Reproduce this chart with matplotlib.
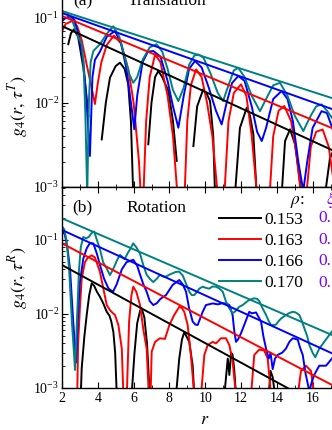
import numpy as np
import matplotlib
matplotlib.use("Agg")
import matplotlib.pyplot as plt
from matplotlib.ticker import MultipleLocator, LogLocator, NullFormatter

plt.rcParams['font.family'] = ['Liberation Serif', 'DejaVu Serif']
plt.rcParams['mathtext.fontset'] = 'stix'

nan = np.nan

# ---------------- data ----------------
rho_labels = ['0.153', '0.163', '0.166', '0.170']
colors = ['#000000', '#ff0000', '#0000ff', '#008080']

# envelope (fit) lines: values at r = 2 and r = 18
env_r = [2.0, 18.0]
env_T = [[0.0803, 0.00223], [0.1057, 0.00414], [0.1146, 0.00714], [0.121, 0.00977]]
env_R = [[0.0459, 0.000356], [0.090, 0.00084], [0.1365, 0.00233], [0.196, 0.00417]]

# ---- translation curves ----
T_black_r = [2.35, 2.5, 2.67, 2.9, 3.19, 3.35, 3.47, nan,
             4.22, 4.45, 4.68, 5.0, 5.24, 5.5, 5.7, 5.85, 5.98, nan,
             6.82, 7.0, 7.2, 7.38, 7.6, 7.94, 8.2, 8.41, nan,
             9.34, 9.55, 9.89, 10.1, 10.27, 10.45, 10.55, nan,
             11.66, 11.94, 12.32, 12.5, 12.69, 12.88, nan,
             14.27, 14.46, 14.74, 15.02, 15.39, nan,
             16.69, 16.97, 17.2, 17.5]
T_black_g = [0.049, 0.066, 0.0735, 0.060, 0.026, 0.013, 0.0069, nan,
             0.00366, 0.010, 0.0197, 0.027, 0.0296, 0.025, 0.0164, 0.006, 0.0008, nan,
             0.0032, 0.010, 0.020, 0.0236, 0.020, 0.0137, 0.006, 0.00204, nan,
             0.00305, 0.009, 0.0143, 0.0125, 0.0104, 0.004, 0.0008, nan,
             0.0008, 0.005, 0.00867, 0.007, 0.0042, 0.0008, nan,
             0.0008, 0.0035, 0.00482, 0.0032, 0.0008, nan,
             0.0008, 0.0022, 0.0028, 0.003]

T_red_r = [2.0, 2.2, 2.56, 2.85, 3.1, 3.35, 3.6, 3.84, 4.0, 4.2, 4.5, 4.9, 5.3, 5.7, 6.0, 6.3, 6.4, nan,
           6.55, 6.7, 6.9, 7.2, 7.5, 7.9, 8.2, 8.45, nan,
           8.85, 9.0, 9.2, 9.49, 9.8, 10.1, 10.4, 10.7, nan,
           11.07, 11.3, 11.6, 12.0, 12.3, 12.6, 12.9, nan,
           13.6, 13.8, 14.1, 14.42, 14.8, 15.1, 15.35, nan,
           15.65, 15.9, 16.2, 16.56, 16.9, 17.1, 17.3]
T_red_g = [0.07, 0.085, 0.092, 0.08, 0.055, 0.03, 0.017, 0.0096, 0.017, 0.03, 0.048, 0.062, 0.05, 0.025, 0.01, 0.002, 0.0008, nan,
           0.0008, 0.006, 0.02, 0.037, 0.03, 0.012, 0.004, 0.0008, nan,
           0.0008, 0.006, 0.016, 0.0247, 0.02, 0.01, 0.004, 0.0008, nan,
           0.0008, 0.006, 0.013, 0.0164, 0.012, 0.004, 0.0008, nan,
           0.0008, 0.004, 0.008, 0.0091, 0.006, 0.0025, 0.0008, nan,
           0.0008, 0.003, 0.0045, 0.0048, 0.003, 0.0015, 0.0008]

T_blue_r = [2.0, 2.2, 2.45, 2.7, 2.95, 3.19, 3.35, 3.56, 3.7, 3.84, 4.12, 4.5, 4.96, 5.3, 5.6, 5.85,
            6.04, 6.2, 6.5, 6.8, 7.1, 7.5, 7.9, 8.2, 8.5, 8.8, 9.1, 9.43, 9.8, 10.2, 10.6, 10.92,
            11.2, 11.5, 11.85, 12.2, 12.6, 12.9, 13.16, 13.4, 13.8, 14.27, 14.6, 14.9, 15.2, 15.48,
            15.7, 16.0, 16.5, 16.8, 17.1, 17.4]
T_blue_g = [0.092, 0.1, 0.105, 0.095, 0.06, 0.031, 0.012, 0.00233, 0.02, 0.032, 0.04, 0.06, 0.070, 0.05, 0.025, 0.01,
            0.00482, 0.012, 0.03, 0.04, 0.0407, 0.035, 0.018, 0.009, 0.00503, 0.012, 0.025, 0.031, 0.026, 0.015, 0.008, 0.0055,
            0.01, 0.017, 0.0206, 0.018, 0.009, 0.0045, 0.0035, 0.005, 0.011, 0.0137, 0.011, 0.006, 0.002, 0.0009,
            0.002, 0.005, 0.0079, 0.0075, 0.005, 0.003]

T_teal_r = [2.0, 2.3, 2.6, 2.9, 3.1, 3.2, 3.3, 3.41, 3.5, 3.6, 3.75, 4.12, 4.5, 4.87, 5.2, 5.5, 5.75, 5.98,
            6.2, 6.5, 6.9, 7.28, 7.6, 7.9, 8.2, 8.5, 8.8, 9.1, 9.4, 9.62, 9.9, 10.3, 10.7, 11.0,
            11.3, 11.6, 11.85, 12.2, 12.6, 13.06, 13.4, 13.8, 14.18, 14.6, 15.0, 15.48, 15.9, 16.2,
            16.5, 16.8, 17.08]
T_teal_g = [0.12, 0.115, 0.09, 0.06, 0.049, 0.03, 0.008, 0.0008, 0.01, 0.03, 0.0407, 0.049, 0.065, 0.080, 0.06, 0.035, 0.022, 0.0171,
            0.02, 0.032, 0.045, 0.049, 0.04, 0.025, 0.014, 0.0104, 0.015, 0.028, 0.036, 0.037, 0.034, 0.022, 0.013, 0.0104,
            0.016, 0.024, 0.0257, 0.02, 0.012, 0.0079, 0.011, 0.016, 0.0171, 0.012, 0.007, 0.0046, 0.007, 0.009,
            0.0095, 0.008, 0.0066]

# ---- rotation curves ----
R_black_r = [3.05, 3.1, 3.25, 3.38, 3.52, 3.66, 3.8, 3.95, 4.12, 4.3, 4.5, 4.65, 4.75, 4.87, 4.97, 5.06, nan,
             5.89, 6.05, 6.2, 6.36, 6.45, 6.6, 6.75, 6.9, nan,
             8.37, 8.55, 8.7, 8.83, 8.95, 9.11, 9.3, 9.39, nan,
             11.07, 11.26, 11.35, 11.45, 11.53, 11.62, 11.72, nan,
             13.55, 13.65, 13.77, 13.9]
R_black_g = [0.0008, 0.00184, 0.005, 0.0097, 0.018, 0.026, 0.024, 0.02, 0.0171, 0.014, 0.0107, 0.0095, 0.008, 0.0057, 0.003, 0.0008, nan,
             0.0008, 0.003, 0.0075, 0.011, 0.0119, 0.009, 0.004, 0.0008, nan,
             0.0008, 0.0025, 0.0045, 0.0057, 0.005, 0.0042, 0.002, 0.0008, nan,
             0.0008, 0.0025, 0.0015, 0.003, 0.0028, 0.0018, 0.0008, nan,
             0.0008, 0.0017, 0.0014, 0.0008]

R_red_r = [2.85, 2.9, 3.0, 3.1, 3.28, 3.45, 3.66, 3.84, 4.0, 4.12, 4.31, 4.5, 4.68, 4.8, 4.96, 5.15, 5.34, 5.43, nan,
           5.62, 5.75, 5.88, 5.98, 6.15, 6.36, 6.55, 6.73, 6.85, nan,
           6.95, 7.01, 7.2, 7.47, 7.75, 8.0, 8.27, 8.55, 8.7, 8.83, 9.02, 9.2, 9.39, nan,
           9.77, 9.95, 10.14, 10.42, 10.6, 10.88, 11.16, 11.35, 11.53, 11.72, nan,
           12.56, 12.74, 13.02, 13.3, 13.49, 13.68, nan,
           15.17, 15.35, 15.63, 15.91, 16.09]
R_red_g = [0.0008, 0.004, 0.012, 0.03, 0.05, 0.058, 0.062, 0.058, 0.045, 0.037, 0.022, 0.0132, 0.0113, 0.0105, 0.0097, 0.0071, 0.0034, 0.0008, nan,
           0.0008, 0.008, 0.018, 0.0234, 0.02, 0.0132, 0.006, 0.0034, 0.0008, nan,
           0.0008, 0.0031, 0.0042, 0.0047, 0.0046, 0.0071, 0.0097, 0.0125, 0.012, 0.0107, 0.0071, 0.0028, 0.0008, nan,
           0.0008, 0.0028, 0.0038, 0.0042, 0.0040, 0.0047, 0.0047, 0.0038, 0.0023, 0.0008, nan,
           0.0008, 0.0028, 0.0033, 0.0032, 0.0025, 0.0008, nan,
           0.0008, 0.0017, 0.002, 0.0017, 0.0008]

R_blue_r = [2.02, 2.15, 2.3, 2.45, 2.6, 2.78, 2.9, 3.0, 3.19, 3.38, 3.55, 3.75, 3.95, 4.12, 4.35, 4.6, 4.85,
            5.05, 5.34, 5.6, 5.98, 6.2, 6.36, 6.55, 6.73, 6.9, 7.1, 7.3, 7.5, 7.81, 8.18, 8.55, 8.75,
            8.93, 9.1, 9.3, 9.45, 9.58, 9.86, 10.04, 10.42, 10.7, 10.98, 11.2, 11.35, 11.53, 11.62, 11.72,
            11.85, 12.0, 12.18, 12.46, 12.6, 12.84, 13.12, 13.25, 13.4, 13.55, 13.65, 13.77, 13.9, 14.05,
            14.3, 14.51, 14.7, 14.89, 15.05, 15.17, 15.3, 15.45, 15.6, 15.82, 15.95, 16.09, 16.37, 16.75, 17.08]
R_blue_g = [0.13, 0.12, 0.08, 0.04, 0.01, 0.0022, 0.01, 0.027, 0.056, 0.077, 0.09, 0.09, 0.065, 0.046, 0.03, 0.022, 0.02,
            0.025, 0.04, 0.05, 0.054, 0.045, 0.034, 0.025, 0.02, 0.015, 0.0132, 0.014, 0.016, 0.018, 0.0247, 0.0288, 0.025,
            0.02, 0.012, 0.0079, 0.0072, 0.0071, 0.0107, 0.0132, 0.0139, 0.0135, 0.014, 0.0138, 0.0132, 0.0097, 0.006, 0.0042,
            0.0046, 0.0055, 0.0071, 0.0107, 0.0102, 0.0105, 0.0079, 0.005, 0.0034, 0.0025, 0.003, 0.0018, 0.0025, 0.0028,
            0.003, 0.0034, 0.0042, 0.0047, 0.0046, 0.0045, 0.0035, 0.0028, 0.0016, 0.0009, 0.0012, 0.0015, 0.002, 0.002, 0.0025]

R_teal_r = [2.02, 2.12, 2.25, 2.4, 2.55, 2.73, 2.85, 2.95, 3.05, 3.19, 3.35, 3.5, 3.66, 3.8, 3.95, 4.12, 4.3,
            4.5, 4.68, 4.85, 4.96, 5.1, 5.24, 5.34, 5.5, 5.65, 5.8, 5.98, 6.15, 6.36, 6.55, 6.73, 6.9,
            7.1, 7.3, 7.47, 7.65, 7.81, 8.0, 8.18, 8.35, 8.55, 8.75, 8.95, 9.11, 9.25, 9.39, 9.55, 9.67,
            9.86, 10.05, 10.23, 10.4, 10.6, 10.8, 10.98, 11.15, 11.35, 11.53, 11.7, 11.9, 12.09, 12.3,
            12.46, 12.74, 12.9, 13.02, 13.2, 13.4, 13.55, 13.68, 13.85, 13.96, 14.1, 14.24, 14.51, 14.7,
            14.89, 15.05, 15.26, 15.4, 15.54, 15.7, 15.82, 16.0, 16.15, 16.37, 16.65, 16.93, 17.08]
R_teal_g = [0.15, 0.14, 0.10, 0.04, 0.008, 0.00175, 0.01, 0.04, 0.08, 0.11, 0.105, 0.11, 0.125, 0.13, 0.1, 0.075, 0.05,
            0.041, 0.0336, 0.04, 0.046, 0.055, 0.063, 0.06, 0.055, 0.065, 0.075, 0.09, 0.08, 0.065, 0.045, 0.034, 0.03,
            0.027, 0.03, 0.034, 0.032, 0.032, 0.034, 0.0355, 0.037, 0.0373, 0.033, 0.025, 0.02, 0.018, 0.018, 0.02, 0.022,
            0.0234, 0.0225, 0.022, 0.0235, 0.0234, 0.022, 0.02, 0.015, 0.0119, 0.0102, 0.011, 0.0125, 0.0132, 0.0145,
            0.0155, 0.0163, 0.016, 0.015, 0.012, 0.0097, 0.008, 0.0071, 0.0071, 0.0072, 0.008, 0.0087, 0.0097, 0.0103,
            0.0107, 0.0105, 0.0097, 0.008, 0.0064, 0.005, 0.0038, 0.003, 0.0026, 0.0034, 0.0042, 0.0052, 0.0058]

T_curves = [(T_black_r, T_black_g), (T_red_r, T_red_g), (T_blue_r, T_blue_g), (T_teal_r, T_teal_g)]
R_curves = [(R_black_r, R_black_g), (R_red_r, R_red_g), (R_blue_r, R_blue_g), (R_teal_r, R_teal_g)]

# ---------------- figure ----------------
W, H = 332, 430
fig = plt.figure(figsize=(W / 100, H / 100), dpi=100)

def frame(x0, y0, x1, y1):
    return [x0 / W, 1 - y1 / H, (x1 - x0) / W, (y1 - y0) / H]

ax1 = fig.add_axes(frame(62, -15.6, 348.4, 187))
ax2 = fig.add_axes(frame(62, 187, 348.4, 388))

lw = 1.4
for ax, curves, env, ylim in [(ax1, T_curves, env_T, (1e-3, 0.25)),
                              (ax2, R_curves, env_R, (1e-3, 0.52))]:
    for (r, g), e, c in zip(curves, env, colors):
        ax.plot(np.array(r, float), np.array(g, float), color=c, lw=lw)
    handles = []
    for e, c in zip(env, colors):
        h, = ax.plot(env_r, e, color=c, lw=lw)
        handles.append(h)
    ax.set_yscale('log')
    ax.set_xlim(2, 18)
    ax.set_ylim(*ylim)
    ax.xaxis.set_major_locator(MultipleLocator(2))
    ax.xaxis.set_minor_locator(MultipleLocator(1))
    ax.yaxis.set_major_locator(LogLocator(base=10, numticks=10))
    ax.yaxis.set_minor_locator(LogLocator(base=10, subs=np.arange(2, 10), numticks=20))
    ax.yaxis.set_minor_formatter(NullFormatter())
    ax.tick_params(which='both', direction='in', top=True, right=True)
    ax.tick_params(which='major', length=4, width=0.8)
    ax.tick_params(which='minor', length=2, width=0.6)
    ax.tick_params(axis='x', labelsize=10, pad=3)
    ax.tick_params(axis='y', labelsize=10, pad=2)
    for s in ax.spines.values():
        s.set_linewidth(1.0)

ax1.tick_params(axis='x', labelbottom=False)

ax1.set_ylabel(r'$g_4(r,\,\tau^{T})$', fontsize=13)
ax2.set_ylabel(r'$g_4(r,\,\tau^{R})$', fontsize=13)
ax1.yaxis.set_label_coords(-0.11, 0.40)
ax2.yaxis.set_label_coords(-0.11, 0.55)
ax2.set_xlabel(r'$r$', fontsize=13, labelpad=4)

ax1.text(0.04, 1.0 - 20.6 / 202.6, '(a)', transform=ax1.transAxes, fontsize=12.5, va='baseline')
ax1.text(0.228, 1.0 - 20.6 / 202.6, 'Translation', transform=ax1.transAxes, fontsize=12.5, va='baseline')
ax2.text(0.035, 1 - 24.5 / 201, '(b)', transform=ax2.transAxes, fontsize=12.5, va='baseline')
ax2.text(0.225, 1 - 24.5 / 201, 'Rotation', transform=ax2.transAxes, fontsize=12.5, va='baseline')

leg = ax2.legend(handles, rho_labels, frameon=False, fontsize=12.5,
                 handlelength=2.4, handletextpad=0.2, labelspacing=0.28,
                 loc='upper left', bbox_to_anchor=(219 / W, 1 - 211.5 / H),
                 bbox_transform=fig.transFigure, borderpad=0, borderaxespad=0)

fig.text(290 / W, 1 - 204 / H, r'$\rho$:', fontsize=12.5, color='black')
fig.text(326 / W, 1 - 204 / H, r'$\xi$', fontsize=12.5, color='#8000ff')
for i in range(4):
    fig.text(318 / W, 1 - (222 + 21.7 * i) / H, '0.', fontsize=12.5, color='#8000ff')

fig.savefig('out.png', dpi=100)
